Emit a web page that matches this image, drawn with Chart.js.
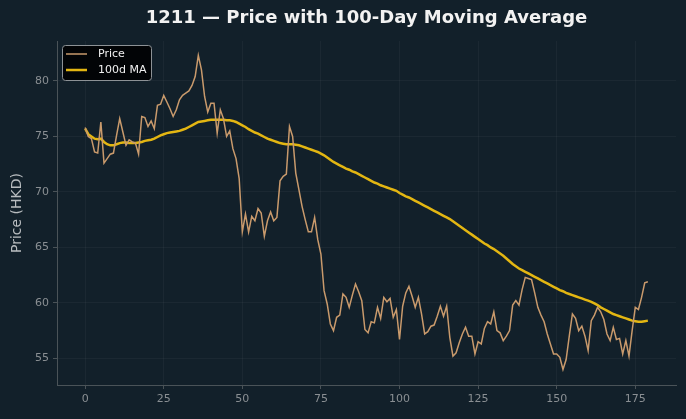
<!DOCTYPE html>
<html>
<head>
<meta charset="utf-8">
<script src="https://cdn.jsdelivr.net/npm/chart.js@4"></script>
<style>
html, body { margin: 0; padding: 0; background: #12202a; }
</style>
</head>
<body>
<canvas id="chart1" width="686" height="419"></canvas>
<script>
// closing price, one value per trading day
const price = [
    75.8, 75.0, 74.8, 73.6, 73.5, 76.3, 72.6, 73.0, 73.4, 73.5,
    75.1, 76.6, 75.4, 74.2, 74.7, 74.5, 74.4, 73.4, 76.8, 76.7,
    75.9, 76.4, 75.7, 77.8, 77.9, 78.7, 78.1, 77.5, 76.8, 77.4,
    78.3, 78.7, 78.9, 79.1, 79.6, 80.4, 82.3, 81.0, 78.6, 77.2,
    78.0, 78.0, 75.3, 77.4, 76.6, 75.0, 75.5, 73.9, 73.0, 71.2,
    66.4, 68.0, 66.4, 67.8, 67.4, 68.5, 68.1, 66.0, 67.4, 68.2,
    67.4, 67.7, 71.0, 71.4, 71.6, 75.9, 75.0, 71.7, 70.2, 68.7,
    67.5, 66.4, 66.4, 67.7, 65.7, 64.4, 61.1, 59.9, 58.1, 57.5,
    58.7, 58.9, 60.8, 60.5, 59.6, 60.7, 61.7, 61.0, 60.2, 57.6,
    57.3, 58.3, 58.2, 59.6, 58.6, 60.5, 60.1, 60.4, 58.7, 59.4,
    56.7, 59.7, 60.9, 61.5, 60.6, 59.6, 60.5, 59.0, 57.2, 57.4,
    57.9, 58.0, 58.8, 59.7, 58.8, 59.7, 56.9, 55.2, 55.5, 56.4,
    57.2, 57.8, 57.0, 57.0, 55.4, 56.5, 56.3, 57.7, 58.3, 58.1,
    59.2, 57.5, 57.3, 56.6, 57.0, 57.5, 59.8, 60.2, 59.8, 61.2,
    62.3, 62.2, 62.1, 60.9, 59.6, 58.9, 58.3, 57.2, 56.3, 55.4,
    55.4, 55.1, 54.0, 54.9, 57.0, 59.0, 58.6, 57.5, 57.9, 57.0,
    55.7, 58.4, 58.9, 59.6, 59.2, 58.5, 57.2, 56.6, 57.8, 56.7,
    56.8, 55.4, 56.6, 55.2, 57.5, 59.6, 59.4, 60.5, 61.8, 61.9
];

// 100-day moving average
const ma100 = [
    75.7, 75.2, 75.0, 74.8, 74.75, 74.8, 74.5, 74.3, 74.2, 74.2,
    74.3, 74.4, 74.45, 74.45, 74.4, 74.4, 74.4, 74.45, 74.5, 74.6,
    74.65, 74.7, 74.8, 74.95, 75.1, 75.2, 75.3, 75.35, 75.4, 75.45,
    75.5, 75.6, 75.7, 75.85, 76.0, 76.15, 76.3, 76.35, 76.4, 76.45,
    76.5, 76.5, 76.5, 76.5, 76.5, 76.45, 76.45, 76.4, 76.3, 76.15,
    76.0, 75.85, 75.65, 75.5, 75.35, 75.25, 75.1, 74.95, 74.8, 74.7,
    74.6, 74.5, 74.4, 74.35, 74.3, 74.3, 74.3, 74.25, 74.2, 74.1,
    74.0, 73.9, 73.8, 73.7, 73.6, 73.45, 73.3, 73.1, 72.9, 72.7,
    72.55, 72.4, 72.25, 72.1, 72.0, 71.85, 71.75, 71.6, 71.45, 71.3,
    71.15, 71.0, 70.85, 70.75, 70.6, 70.5, 70.4, 70.3, 70.2, 70.1,
    69.9, 69.75, 69.6, 69.5, 69.35, 69.2, 69.05, 68.9, 68.75, 68.6,
    68.45, 68.3, 68.15, 68.0, 67.85, 67.7, 67.55, 67.35, 67.15, 66.95,
    66.75, 66.55, 66.35, 66.15, 65.95, 65.75, 65.55, 65.35, 65.2, 65.0,
    64.85, 64.65, 64.45, 64.25, 64.0, 63.75, 63.5, 63.3, 63.1, 62.95,
    62.8, 62.65, 62.5, 62.35, 62.2, 62.05, 61.9, 61.75, 61.6, 61.45,
    61.3, 61.15, 61.05, 60.9, 60.8, 60.7, 60.6, 60.5, 60.4, 60.3,
    60.2, 60.1, 59.95, 59.8, 59.6, 59.45, 59.3, 59.15, 59.0, 58.9,
    58.8, 58.7, 58.6, 58.5, 58.4, 58.35, 58.3, 58.3, 58.35, 58.4
];

const xTicks = [0, 25, 50, 75, 100, 125, 150, 175];
const yTicks = [55, 60, 65, 70, 75, 80];

const days = price.map((_, i) => i);
const toPoints = (arr) => arr.map((v, i) => ({ x: days[i], y: v }));

const gridColor = 'rgba(255,255,255,0.04)';
const axisColor = '#4a5358';
const tickFont = { family: 'DejaVu Sans', size: 11 };

// legend box drawn inside the plot, top left
const boxLegend = {
    id: 'boxLegend',
    afterDatasetsDraw(chart) {
        const c = chart.ctx;
        const a = chart.chartArea;
        const x = a.left + 5, y = a.top + 4, w = 89, h = 35;
        c.save();
        c.beginPath();
        c.roundRect(x + 0.5, y + 0.5, w, h, 3);
        c.fillStyle = 'rgba(0,0,0,0.85)';
        c.fill();
        c.strokeStyle = '#8d9296';
        c.lineWidth = 1;
        c.stroke();
        c.font = '11px "DejaVu Sans"';
        c.textBaseline = 'middle';
        chart.data.datasets.forEach((ds, i) => {
            const ly = y + 9 + i * 16;
            c.beginPath();
            c.moveTo(x + 4, ly);
            c.lineTo(x + 25, ly);
            c.strokeStyle = ds.borderColor;
            c.lineWidth = ds.borderWidth;
            c.stroke();
            c.fillStyle = '#f0f0f0';
            c.fillText(ds.label, x + 36, ly + 0.5);
        });
        c.restore();
    }
};

const ctx = document.querySelector('#chart1');

new Chart(ctx, {
    type: 'line',
    data: {
        datasets: [{
            label: 'Price',
            data: toPoints(price),
            borderColor: '#c99a6c',
            borderWidth: 1.5,
            pointRadius: 0,
            tension: 0
        }, {
            label: '100d MA',
            data: toPoints(ma100),
            borderColor: '#e3b612',
            borderWidth: 2.5,
            pointRadius: 0,
            tension: 0
        }]
    },
    options: {
        responsive: false,
        animation: false,
        devicePixelRatio: 1,
        layout: {
            padding: { left: 0, right: 10, top: 0, bottom: 0 }
        },
        plugins: {
            legend: { display: false },
            tooltip: { enabled: false },
            title: {
                display: true,
                text: '1211 — Price with 100-Day Moving Average',
                color: '#f2f2f2',
                fullSize: false,
                font: { family: 'DejaVu Sans', size: 18, weight: 'bold' },
                padding: { top: 7.5, bottom: 11.9 }
            }
        },
        scales: {
            x: {
                type: 'linear',
                min: -8.95,
                max: 187.95,
                afterBuildTicks: (s) => { s.ticks = xTicks.map(v => ({ value: v })); },
                afterFit: (s) => { s.height = 34; },
                ticks: { color: '#8a8f93', font: tickFont, padding: 4, maxRotation: 0 },
                grid: { color: gridColor, tickColor: axisColor, tickLength: 4 },
                border: { color: axisColor }
            },
            y: {
                min: 52.6,
                max: 83.6,
                afterBuildTicks: (s) => { s.ticks = yTicks.map(v => ({ value: v })); },
                afterFit: (s) => { s.width = 57; },
                ticks: { color: '#8a8f93', font: tickFont, padding: 4 },
                grid: { color: gridColor, tickColor: axisColor, tickLength: 4 },
                border: { color: axisColor },
                title: {
                    display: true,
                    text: 'Price (HKD)',
                    color: '#b8bcbf',
                    font: { family: 'DejaVu Sans', size: 14 },
                    padding: { top: 9, bottom: 0 }
                }
            }
        }
    },
    plugins: [boxLegend]
});
</script>
</body>
</html>
